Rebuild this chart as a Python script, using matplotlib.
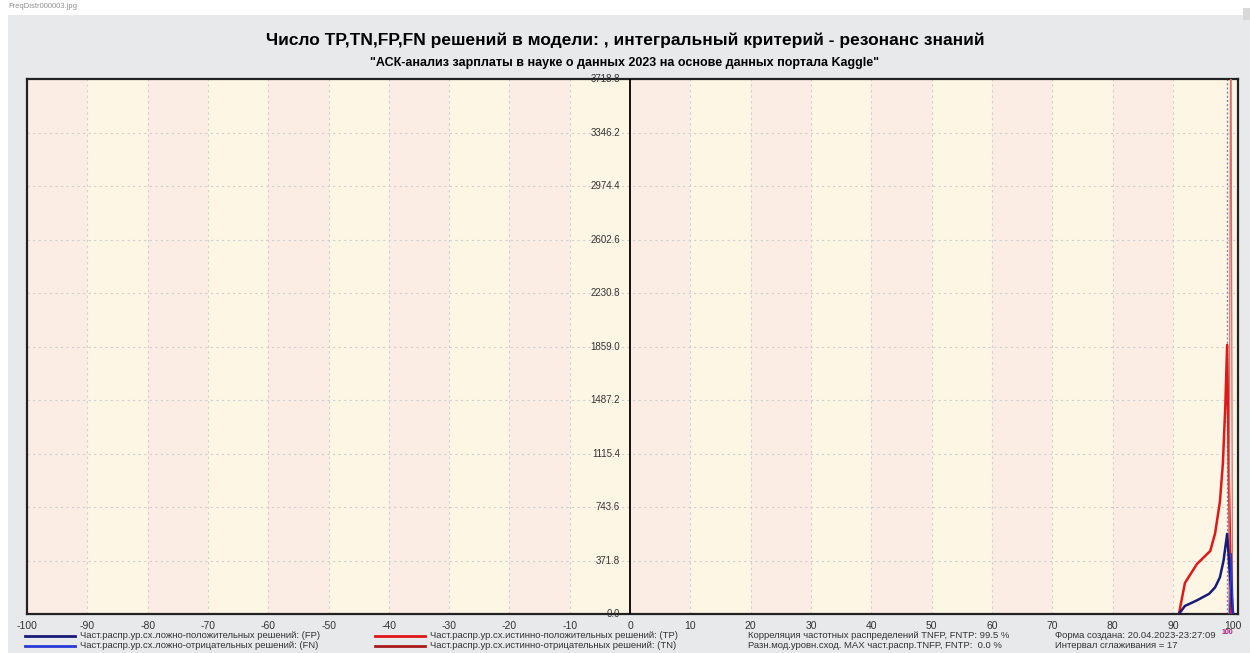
import matplotlib
matplotlib.use("Agg")
import matplotlib.pyplot as plt
from matplotlib.patches import Rectangle

plt.rcParams['font.family'] = ['Liberation Sans', 'DejaVu Sans']

TITLE = "Число TP,TN,FP,FN решений в модели: , интегральный критерий - резонанс знаний"
SUBTITLE = "\"АСК-анализ зарплаты в науке о данных 2023 на основе данных портала Kaggle\""

Y_MAX = 3718.8
Y_TICKS = [0.0, 371.8, 743.6, 1115.4, 1487.2, 1859.0, 2230.8, 2602.6, 2974.4, 3346.2, 3718.8]
X_TICKS = list(range(-100, 101, 10))

# частотные распределения (сглаженные)
fp_x = [91.0, 92.0, 94.0, 96.0, 97.0, 97.8, 98.4, 99.0, 99.5, 100.0]
fp_y = [0, 56, 95, 140, 185, 255, 370, 557, 250, 0]
fn_x = [99.4, 99.7, 100.0]
fn_y = [0, 420, 0]
tp_x = [91.0, 92.0, 94.0, 96.2, 97.0, 97.8, 98.3, 98.7, 99.0, 99.3, 99.7]
tp_y = [0, 216, 348, 438, 560, 780, 1050, 1450, 1870, 900, 0]
tn_x = [99.3, 99.55, 99.65, 99.9]
tn_y = [0, 3718.8, 3718.8, 0]

legend_left = [
    ("#1a1a7a", "Част.распр.ур.сх.ложно-положительных решений: (FP)"),
    ("#2a3ad8", "Част.распр.ур.сх.ложно-отрицательных решений: (FN)"),
]
legend_mid = [
    ("#e01818", "Част.распр.ур.сх.истинно-положительных решений: (TP)"),
    ("#a81c1c", "Част.распр.ур.сх.истинно-отрицательных решений: (TN)"),
]
info_1 = ["Корреляция частотных распределений TNFP, FNTP: 99.5 %",
          "Разн.мод.уровн.сход. MAX част.распр.TNFP, FNTP:  0.0 %"]
info_2 = ["Форма создана: 20.04.2023-23:27:09",
          "Интервал сглаживания = 17"]

fig = plt.figure(figsize=(12.5, 6.53), dpi=100)
fig.patch.set_facecolor("white")

# серая панель формы
fig.add_artist(Rectangle((8 / 1250, 0), 1 - 8 / 1250, 1 - 15 / 653,
                         transform=fig.transFigure, facecolor="#e8e9eb",
                         edgecolor="none", zorder=-10))
fig.add_artist(Rectangle((1243 / 1250, 1 - 20 / 653), 7 / 1250, 12 / 653,
                         transform=fig.transFigure, facecolor="#d8d8d8",
                         edgecolor="none"))
fig.text(8 / 1250, 1 - 7 / 653, "FreqDistr000003.jpg", fontsize=5.5,
         color="#909090", va="center", ha="left")

fig.text(0.5, 1 - 40 / 653, TITLE, fontsize=12.5, fontweight="bold",
         ha="center", va="center")
fig.text(0.5, 1 - 63 / 653, SUBTITLE, fontsize=9, fontweight="bold",
         ha="center", va="center")

ax = fig.add_axes([27 / 1250, 1 - 614 / 653, (1238 - 27) / 1250, (614 - 79) / 653])
ax.set_xlim(-100, 100.8)
ax.set_ylim(0, Y_MAX)

# полосы фона по 10 единиц
for i, left in enumerate(range(-100, 100, 10)):
    col = "#fcede4" if i % 2 == 0 else "#fdf6e4"
    ax.axvspan(left, left + 10, facecolor=col, edgecolor="none", zorder=0)
ax.axvspan(100, 100.8, facecolor="#fdf6e4", edgecolor="none", zorder=0)

for xt in X_TICKS[1:-1]:
    if xt != 0:
        ax.axvline(xt, color="#cfcfcf", lw=0.8, ls=(0, (2, 3)), zorder=1)
for yt in Y_TICKS[1:-1]:
    ax.axhline(yt, color="#cfcfcf", lw=0.8, ls=(0, (2, 3)), zorder=1)

ax.axvline(0, color="black", lw=1.3, zorder=3)
ax.axvline(99.0, color="#9080a8", lw=1.0, ls=(0, (1.5, 1.5)), zorder=2)

ax.plot(tp_x, tp_y, color=legend_mid[0][0], lw=1.8, zorder=4)
ax.plot(tn_x, tn_y, color="#d07070", lw=0.9, zorder=4)
ax.plot(fp_x, fp_y, color=legend_left[0][0], lw=1.8, zorder=5)
ax.plot(fn_x, fn_y, color=legend_left[1][0], lw=1.0, zorder=5)

# подписи оси Y у нулевой вертикали
for yt in Y_TICKS:
    ax.text(-1.7, yt, f"{yt:.1f}", fontsize=7, color="#333333",
            ha="right", va="center", zorder=6)

ax.set_xticks(X_TICKS)
ax.set_xticklabels([str(t) for t in X_TICKS], fontsize=7.5, color="#333333")
ax.tick_params(axis="x", length=0, pad=5)
ax.set_yticks([])
for sp in ax.spines.values():
    sp.set_linewidth(1.6)
    sp.set_color("#222222")

ax.text(99.0, -0.035, "100", transform=ax.get_xaxis_transform(), fontsize=5,
        color="#b0207a", fontweight="bold", ha="center", va="center")

# легенда внизу формы
rows_y = [1 - 636 / 653, 1 - 646 / 653]
for (c, t), yy in zip(legend_left, rows_y):
    fig.add_artist(plt.Line2D([25 / 1250, 75 / 1250], [yy, yy], color=c, lw=2))
    fig.text(80 / 1250, yy, t, fontsize=6.8, color="#333333", va="center")
for (c, t), yy in zip(legend_mid, rows_y):
    fig.add_artist(plt.Line2D([375 / 1250, 425 / 1250], [yy, yy], color=c, lw=2))
    fig.text(430 / 1250, yy, t, fontsize=6.8, color="#333333", va="center")
for t, yy in zip(info_1, rows_y):
    fig.text(748 / 1250, yy, t, fontsize=6.8, color="#333333", va="center")
for t, yy in zip(info_2, rows_y):
    fig.text(1055 / 1250, yy, t, fontsize=6.8, color="#333333", va="center")

fig.savefig("out.png", dpi=100, facecolor=fig.get_facecolor())
